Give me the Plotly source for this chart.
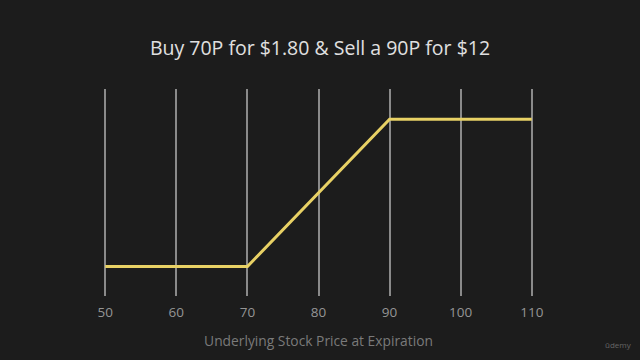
import plotly.graph_objects as go

prices = [50, 70, 90, 110]
profit = [-9.8, -9.8, 10.2, 10.2]
tick_vals = [50, 60, 70, 80, 90, 100, 110]
tick_text = ["50", "60", "70", "80", "90", "100", "110"]
title_text = "Buy 70P for $1.80 & Sell a 90P for $12"
x_title = "Underlying Stock Price at Expiration"

bg = "#1c1c1c"
fig = go.Figure()
fig.add_trace(go.Scatter(x=prices, y=profit, mode="lines",
                         line=dict(color="#e8d165", width=3),
                         hoverinfo="skip", showlegend=False))
fig.update_layout(
    width=640, height=360,
    paper_bgcolor=bg, plot_bgcolor=bg,
    margin=dict(l=91, r=94, t=89, b=64),
    title=dict(text=title_text, x=0.5, xanchor="center", y=0.865, yanchor="middle",
               font=dict(family="Open Sans", size=19.5, color="#e0e0e0")),
    xaxis=dict(range=[48, 112], tickvals=tick_vals, ticktext=tick_text,
               showgrid=True, gridcolor="#8a8a8a", gridwidth=1.5,
               zeroline=False, showline=False, ticks="",
               ticklabelstandoff=6,
               tickfont=dict(family="Open Sans", size=13.5, color="#959595"),
               title=dict(text=x_title, standoff=16,
                          font=dict(family="Open Sans", size=13.8, color="#7a7a7a"))),
    yaxis=dict(range=[-13.8, 14.3], visible=False, showgrid=False, zeroline=False),
    annotations=[dict(text="ūdemy", x=1, y=0, xref="paper", yref="paper",
                      xanchor="right", yanchor="bottom", showarrow=False,
                      xshift=88, yshift=-56,
                      font=dict(family="Open Sans", size=8, color="#666666"))],
)
fig.write_html("out.html", config={"displayModeBar": False},
               post_script="document.body.style.margin='0';document.body.style.background='#1c1c1c';")
